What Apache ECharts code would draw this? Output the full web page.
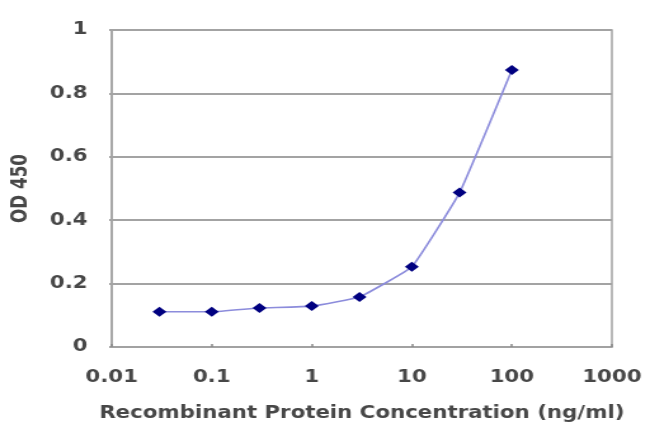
<!DOCTYPE html>
<html>
<head>
<meta charset="utf-8">
<script src="https://cdn.jsdelivr.net/npm/echarts@6/dist/echarts.min.js"></script>
<style>
  html, body { margin: 0; padding: 0; background: #fff; overflow: hidden; }
  #wrap { width: 650px; height: 433px; overflow: hidden; }
  #chart { width: 512px; height: 433px; transform: scaleX(1.2695); transform-origin: 0 0; }
</style>
</head>
<body>
<div id="wrap"><div id="chart"></div></div>
<script>
// Data
const concentrations = [0.03, 0.1, 0.3, 1, 3, 10, 30, 100];
const od450 = [0.111, 0.111, 0.123, 0.129, 0.158, 0.253, 0.487, 0.874];
const xTickValues = [0.01, 0.1, 1, 10, 100, 1000];
const xTickLabels = ['0.01', '0.1', '1', '10', '100', '1000'];
const yTickLabels = ['0', '0.2', '0.4', '0.6', '0.8', '1'];
const xTitle = 'Recombinant Protein Concentration (ng/ml)';
const yTitle = 'OD 450';

const points = concentrations.map((c, i) => [c, od450[i]]);
const textStyle = { fontFamily: 'DejaVu Sans', fontSize: 16.8, fontWeight: 'bold', color: '#474747' };

const chart = echarts.init(document.getElementById('chart'), null, { renderer: 'canvas' });
chart.setOption({
  animation: false,
  backgroundColor: '#fff',
  grid: {
    left: 84, right: 30, top: 30, bottom: 86,
    show: true, borderColor: '#a3a3a3', borderWidth: 1.5, backgroundColor: '#fff'
  },
  xAxis: {
    type: 'log', logBase: 10, min: 0.01, max: 1000,
    name: xTitle, nameLocation: 'middle', nameGap: 58,
    nameTextStyle: textStyle,
    axisLine: { show: true, onZero: false, lineStyle: { color: '#a3a3a3', width: 1.5 } },
    axisTick: { show: true, inside: true, length: 3, lineStyle: { color: '#888', width: 1.5 } },
    axisLabel: Object.assign({}, textStyle, {
      margin: 22,
      formatter: function (v) {
        const idx = xTickValues.findIndex(t => Math.abs(Math.log10(t) - Math.log10(v)) < 1e-6);
        return idx >= 0 ? xTickLabels[idx] : '';
      }
    }),
    splitLine: { show: false },
    minorTick: { show: false }
  },
  yAxis: {
    type: 'value', min: 0, max: 1, interval: 0.2,
    name: yTitle, nameLocation: 'middle', nameGap: 63, nameRotate: 90,
    nameTextStyle: textStyle,
    axisLine: { show: true, lineStyle: { color: '#a3a3a3', width: 1.5 } },
    axisTick: { show: true, length: 2, lineStyle: { color: '#a3a3a3', width: 2 } },
    axisLabel: Object.assign({}, textStyle, {
      margin: 19,
      formatter: function (v) {
        const idx = Math.round(v / 0.2);
        return yTickLabels[idx] !== undefined ? yTickLabels[idx] : '';
      }
    }),
    splitLine: { show: true, lineStyle: { color: '#a3a3a3', width: 2 } }
  },
  series: [{
    type: 'line',
    data: points,
    smooth: 0.1,
    symbol: 'diamond',
    symbolSize: [11, 10],
    lineStyle: { color: '#8c8cdc', width: 1.6 },
    itemStyle: { color: '#000080', borderWidth: 0 }
  }]
});
</script>
</body>
</html>
